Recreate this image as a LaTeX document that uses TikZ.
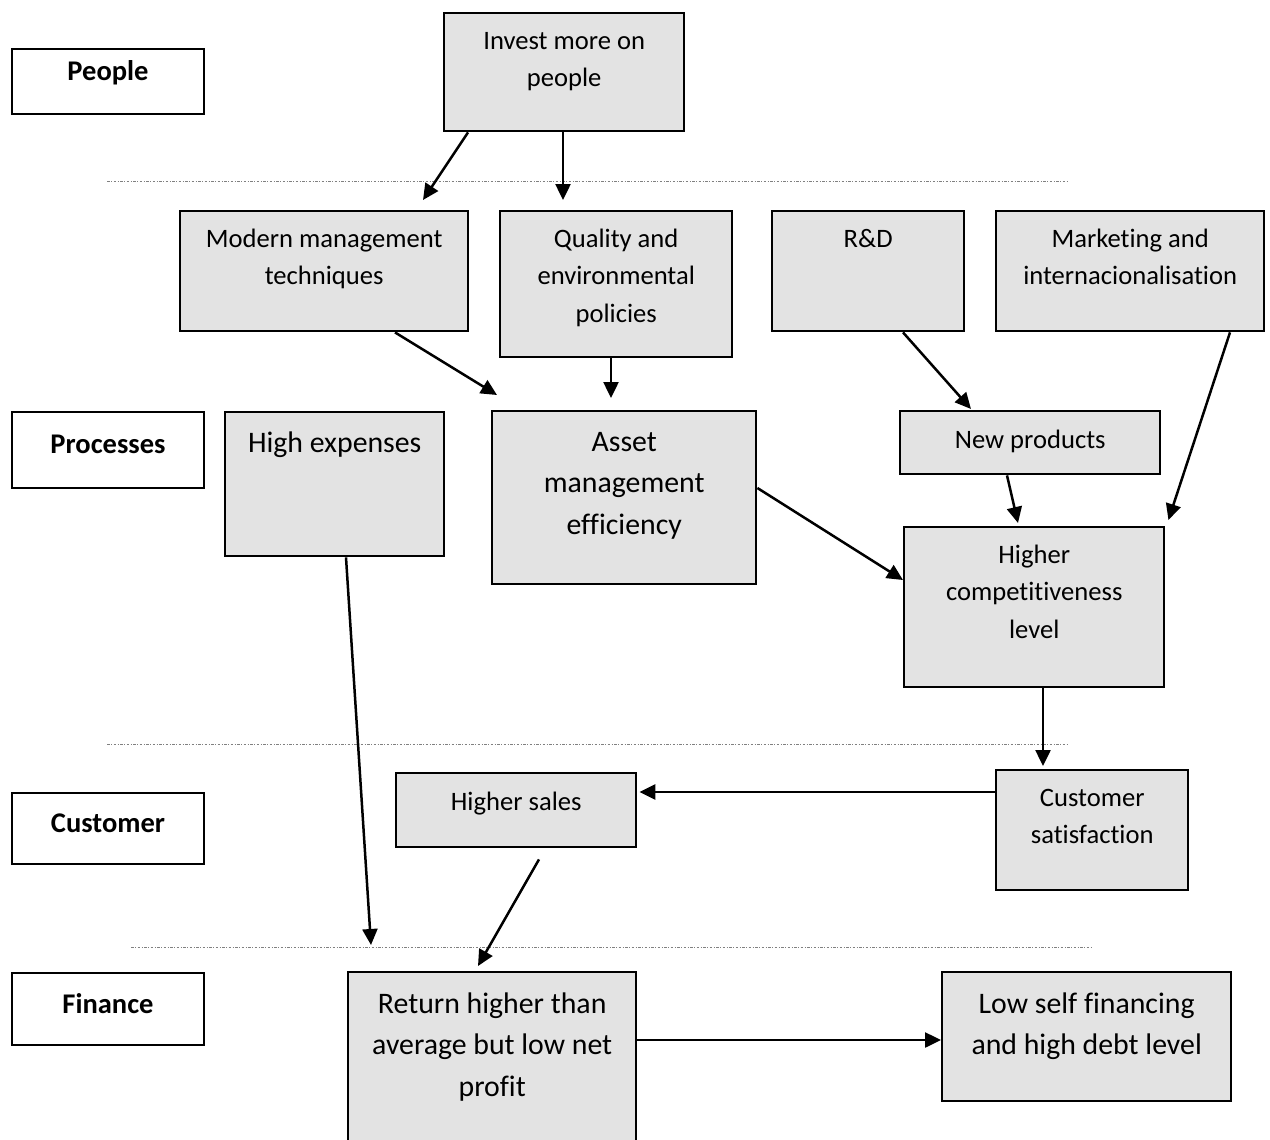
\documentclass[tikz,border=0pt]{standalone}
\usepackage{fontspec}
\setmainfont{Carlito}[Ligatures=NoCommon]
\usetikzlibrary{arrows.meta,calc}
\definecolor{boxgray}{HTML}{E3E3E3}
\newcommand{\normtext}{\fontsize{26.6}{37.5}\selectfont}
\newcommand{\bigtext}{\fontsize{29.8}{41.5}\selectfont}
\newcommand{\labeltext}{\fontsize{28.5}{37.5}\selectfont\bfseries}
% width, height, first baseline, text
\newcommand{\boxtext}[4]{\parbox[t][#2pt][t]{#1pt}{\centering\rule{0pt}{#3pt}#4}}
\begin{document}
\begin{tikzpicture}[x=1pt, y=-1pt,
    arrowstyle/.style={draw, line width=2.5pt, -{Triangle[length=16pt,width=15pt]}},
    factor/.style={rectangle, draw, line width=2.4pt, fill=boxgray, inner sep=0pt,
        anchor=north west, font=\normtext},
    bigfactor/.style={factor, font=\bigtext},
    perspective/.style={rectangle, draw, line width=2pt, fill=white, inner sep=0pt,
        anchor=north west, font=\labeltext},
    divider/.style={draw=gray, line width=1pt, dash pattern=on 2.5pt off 1.5pt on 1pt off 1.5pt}
]
\useasboundingbox (0,0) rectangle (1270,1140);

% perspectives
\node (People) [perspective] at (11,48) {\boxtext{192}{65}{32}{People}};
\node (Processes) [perspective] at (11,411) {\boxtext{192}{76}{41}{Processes}};
\node (Customer) [perspective] at (11,792) {\boxtext{192}{71}{39}{Customer}};
\node (Finance) [perspective] at (11,972) {\boxtext{192}{72}{40}{Finance}};

% dividers
\draw [divider] (107,181) -- (1067,181);
\draw [divider] (107,744) -- (1067,744);
\draw [divider] (131,947) -- (1091,947);

% people
\node (Invest) [factor] at (443,12) {\boxtext{240}{118}{36}{Invest more on\\people}};

% processes
\node (Modern) [factor] at (179,210) {\boxtext{288}{120}{36}{Modern management\\techniques}};
\node (Quality) [factor] at (499,210) {\boxtext{232}{146}{36}{Quality and\\environmental\\policies}};
\node (RD) [factor] at (771,210) {\boxtext{192}{120}{36}{R\&D}};
\node (Marketing) [factor] at (995,210) {\boxtext{268}{120}{36}{Marketing and\\internacionalisation}};
\node (Expenses) [bigfactor] at (224,411) {\boxtext{219}{144}{40}{High expenses}};
\node (Asset) [bigfactor] at (491,410) {\boxtext{264}{173}{40}{Asset\\management\\efficiency}};
\node (NewProd) [factor] at (899,410) {\boxtext{260}{63}{37}{New products}};
\node (Compet) [factor] at (903,526) {\boxtext{260}{160}{36}{Higher\\competitiveness\\level}};

% customer
\node (Sales) [factor] at (395,772) {\boxtext{240}{74}{37}{Higher sales}};
\node (Satisf) [factor] at (995,769) {\boxtext{192}{120}{36}{Customer\\satisfaction}};

% finance
\node (Return) [bigfactor] at (347,971) {\boxtext{288}{175}{41}{Return higher than\\average but low net\\profit}};
\node (LowSelf) [bigfactor] at (941,971) {\boxtext{289}{129}{41}{Low self financing\\and high debt level}};

% links
\draw [arrowstyle] ($(Invest.south west)+(25,0)$) -- ($(Modern.north west)+(244,-10)$);
\draw [arrowstyle] ($(Invest.south west)+(120,0)$) -- ($(Quality.north west)+(64,-10)$);
\draw [arrowstyle] ($(Modern.south west)+(216,0)$) -- ($(Asset.north west)+(6,-15)$);
\draw [arrowstyle] ($(Quality.south west)+(112,0)$) -- ($(Asset.north west)+(120,-12)$);
\draw [arrowstyle] ($(RD.south west)+(132,0)$) -- ($(NewProd.north west)+(72,-1)$);
\draw [arrowstyle] ($(Marketing.south west)+(235,0)$) -- ($(Compet.north east)+(3,-6)$);
\draw [arrowstyle] ($(NewProd.south west)+(108,0)$) -- ($(Compet.north west)+(115,-3)$);
\draw [arrowstyle] ($(Asset.north east)+(0,78)$) -- ($(Compet.north west)+(0,54)$);
\draw [arrowstyle] ($(Compet.south west)+(140,0)$) -- ($(Satisf.north west)+(48,-3)$);
\draw [arrowstyle] ($(Satisf.north west)+(0,23)$) -- ($(Sales.north east)+(2,20)$);
\draw [arrowstyle] ($(Expenses.south west)+(122,0)$) -- ($(Return.north west)+(24,-26)$);
\draw [arrowstyle] ($(Sales.south west)+(144,11)$) -- ($(Return.north west)+(131,-5)$);
\draw [arrowstyle] ($(Return.north east)+(0,69)$) -- ($(LowSelf.north west)+(0,69)$);
\end{tikzpicture}
\end{document}
